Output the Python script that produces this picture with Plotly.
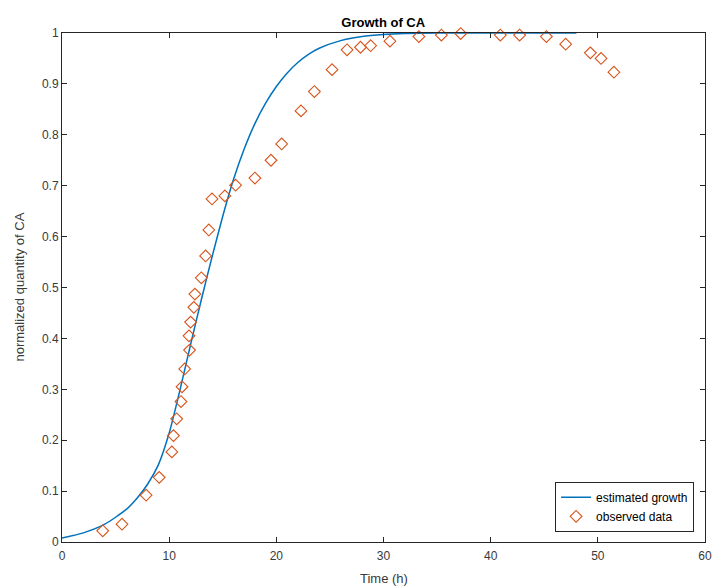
import plotly.graph_objects as go

# Estimated growth curve
curve_t = [0, 2, 4, 6, 7, 8, 9, 10, 11, 12, 13, 14, 15, 16, 17, 18, 19, 20,
           21, 22, 23, 24, 26, 28, 30, 32, 35, 40, 48]
curve_y = [0.008, 0.018, 0.035, 0.064, 0.086, 0.114, 0.152, 0.214, 0.298, 0.388,
           0.476, 0.560, 0.640, 0.712, 0.772, 0.822, 0.862, 0.895, 0.921, 0.942,
           0.958, 0.970, 0.985, 0.993, 0.997, 0.999, 1.0, 1.0, 1.0]

# Observed data
obs_t = [3.8, 5.6, 7.85, 9.07, 10.25, 10.4, 10.7, 11.1, 11.2, 11.45, 11.9, 11.85,
         12.0, 12.3, 12.4, 13.0, 13.4, 13.7, 14.0, 15.2, 16.2, 18.0, 19.5, 20.5,
         22.3, 23.55, 25.2, 26.6, 27.85, 28.8, 30.6, 33.3, 35.4, 37.2, 40.9, 42.7,
         45.2, 47.0, 49.3, 50.3, 51.5]
obs_y = [0.022, 0.035, 0.092, 0.127, 0.177, 0.209, 0.242, 0.276, 0.305, 0.340,
         0.377, 0.405, 0.432, 0.461, 0.487, 0.519, 0.562, 0.613, 0.674, 0.680,
         0.701, 0.715, 0.750, 0.782, 0.847, 0.885, 0.928, 0.967, 0.972, 0.975,
         0.984, 0.993, 0.996, 0.999, 0.996, 0.996, 0.993, 0.978, 0.961, 0.950,
         0.923]

x_ticks = [0, 10, 20, 30, 40, 50, 60]
y_ticks = [0, 0.1, 0.2, 0.3, 0.4, 0.5, 0.6, 0.7, 0.8, 0.9, 1]
y_tick_text = ["0", "0.1", "0.2", "0.3", "0.4", "0.5", "0.6", "0.7", "0.8", "0.9", "1"]

FONT = "Liberation Sans, Arial, sans-serif"
W, H = 713, 587
ML, MR, MT, MB = 62, 8, 33, 45
PW, PH = W - ML - MR, H - MT - MB

fig = go.Figure()
fig.add_trace(go.Scatter(
    x=curve_t, y=curve_y, mode="lines", name="estimated growth",
    line=dict(color="#0072BD", width=1.5, shape="spline", smoothing=0.6),
))
fig.add_trace(go.Scatter(
    x=obs_t, y=obs_y, mode="markers", name="observed data",
    marker=dict(symbol="diamond-open", size=9, color="#D95319",
                line=dict(width=1.1, color="#D95319")),
    cliponaxis=False,
))

axis_common = dict(
    showgrid=False, zeroline=False, showline=True, linecolor="#262626",
    linewidth=1, mirror="ticks", ticks="inside", ticklen=5, tickcolor="#262626",
    tickfont=dict(family=FONT, size=12, color="#3a3a3a"), automargin=False,
)

fig.update_layout(
    width=W, height=H,
    margin=dict(l=ML, r=MR, t=MT, b=MB),
    paper_bgcolor="white", plot_bgcolor="white",
    font=dict(family=FONT, color="#262626"),
    title=dict(text="<b>Growth of CA</b>", x=0.5375, xanchor="center",
               y=1 - 22.5 / H, yanchor="middle", font=dict(size=13, color="#000000")),
    xaxis=dict(range=[0, 60], tickvals=x_ticks, ticklabelstandoff=3, **axis_common),
    yaxis=dict(range=[0, 1], tickvals=y_ticks, ticktext=y_tick_text, **axis_common),
    legend=dict(x=0.983, y=0.02, xanchor="right", yanchor="bottom",
                bordercolor="#262626", borderwidth=1, bgcolor="white",
                font=dict(family=FONT, size=12, color="#000000"), tracegroupgap=0,
                itemwidth=30),
    showlegend=True,
    annotations=[
        dict(text="Time (h)", xref="paper", yref="paper", x=0.5,
             y=-(578 - (MT + PH)) / PH, xanchor="center", yanchor="middle",
             showarrow=False, font=dict(family=FONT, size=13, color="#3a3a3a")),
        dict(text="normalized quantity of CA", xref="paper", yref="paper",
             x=-(ML - 19) / PW, y=0.5, xanchor="center", yanchor="middle",
             textangle=-90, showarrow=False,
             font=dict(family=FONT, size=13, color="#3a3a3a")),
    ],
)

fig.write_html("out.html", config={"displayModeBar": False},
               post_script="document.body.style.margin='0';")
